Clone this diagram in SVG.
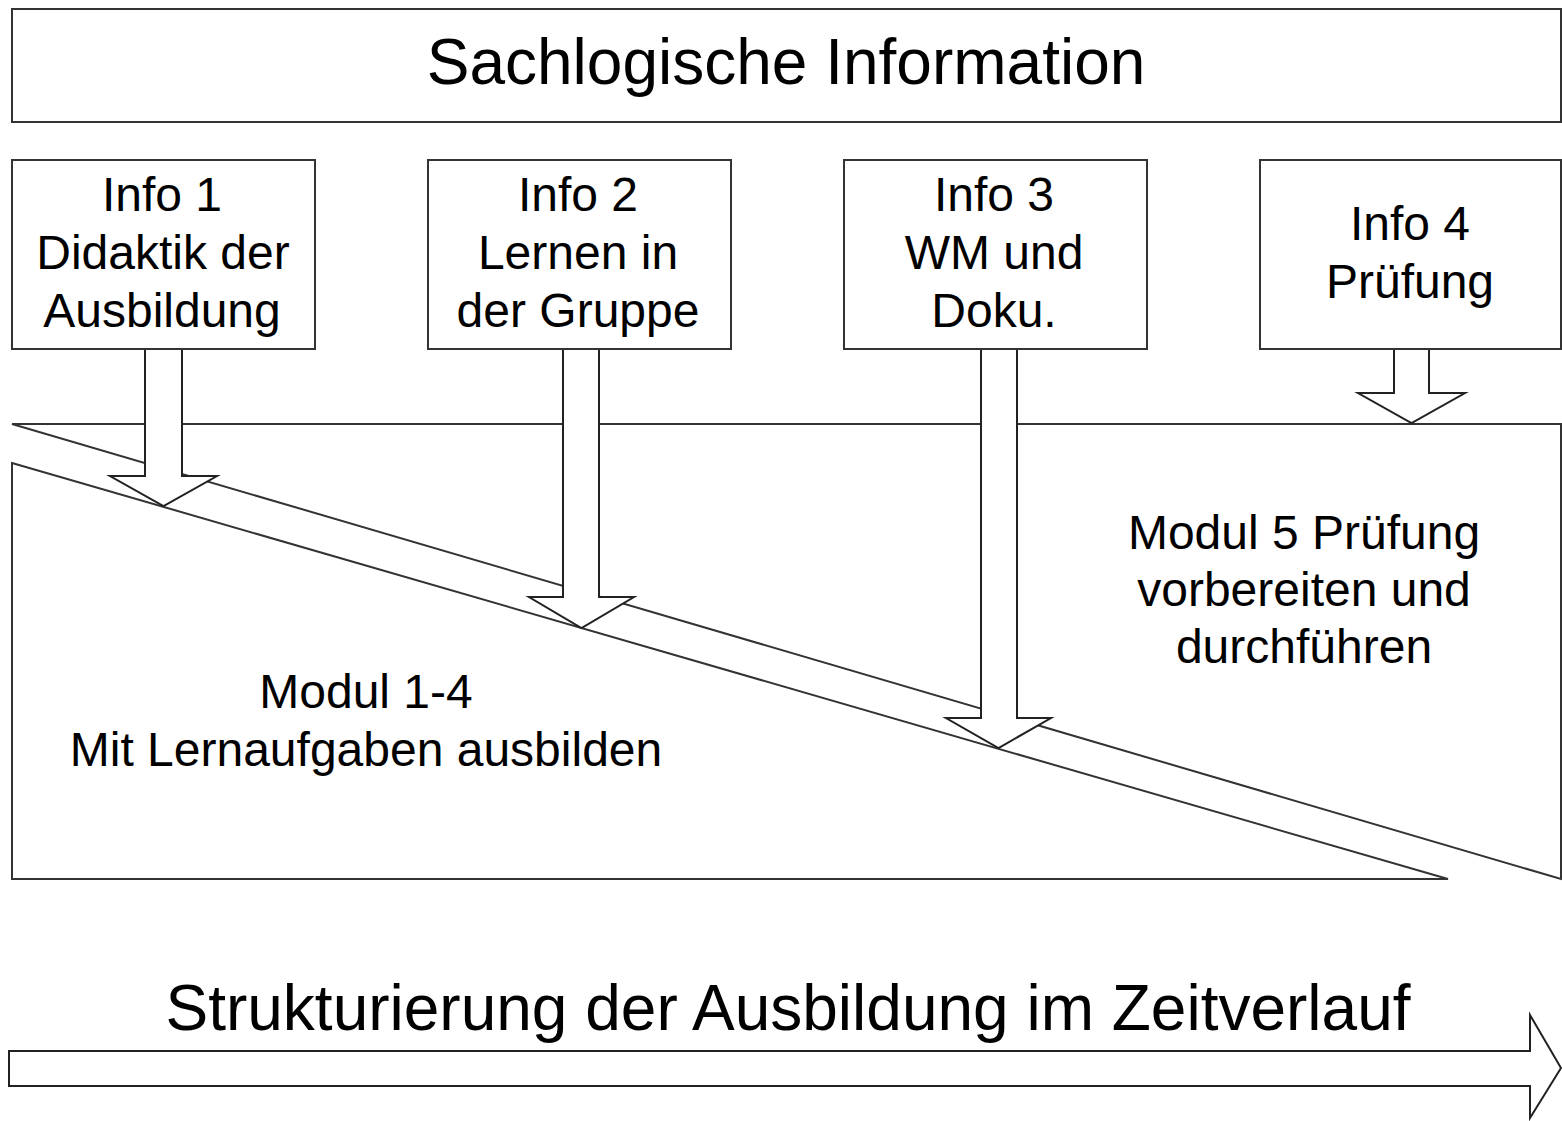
<svg xmlns="http://www.w3.org/2000/svg" width="1562" height="1121" viewBox="0 0 1562 1121">
  <style>
    .box { fill: #ffffff; stroke: #333333; stroke-width: 2; }
    .arrow { fill: #ffffff; stroke: #222222; stroke-width: 2; stroke-linejoin: miter; }
    .lbl { font-family: "Liberation Sans", Arial, sans-serif; font-size: 48px; fill: #000000; text-anchor: middle; }
    .title { font-family: "Liberation Sans", Arial, sans-serif; font-size: 64px; fill: #000000; text-anchor: middle; }
  </style>

  <rect width="1562" height="1121" fill="#ffffff"/>

  <!-- Header bar -->
  <g id="header">
    <rect class="box" x="12" y="9" width="1549" height="113"/>
    <text class="title" x="786" y="84">Sachlogische Information</text>
  </g>

  <!-- Module areas split by the diagonal band -->
  <g id="modul5">
    <polygon class="box" points="12,424 1561,424 1561,879"/>
    <text class="lbl" x="1304" y="549">Modul 5 Prüfung</text>
    <text class="lbl" x="1304" y="606">vorbereiten und</text>
    <text class="lbl" x="1304" y="663">durchführen</text>
  </g>
  <g id="modul1-4">
    <polygon class="box" points="12,463 1448,879 12,879"/>
    <text class="lbl" x="366" y="708">Modul 1-4</text>
    <text class="lbl" x="366" y="766">Mit Lernaufgaben ausbilden</text>
  </g>

  <!-- Block arrows from the info boxes into the modules -->
  <g id="connectors">
    <polygon class="arrow" points="145,349 182,349 182,476 217,476 163.5,506 110,476 145,476"/>
    <polygon class="arrow" points="563,349 599,349 599,597 634,597 581.5,628 529,597 563,597"/>
    <polygon class="arrow" points="981,349 1017,349 1017,718 1051,718 998.5,748 946,718 981,718"/>
    <polygon class="arrow" points="1394,349 1429,349 1429,393 1465,393 1411.5,423 1358,393 1394,393"/>
  </g>

  <!-- Info boxes -->
  <g id="info1">
    <rect class="box" x="12" y="160" width="303" height="189"/>
    <text class="lbl" x="162" y="211">Info 1</text>
    <text class="lbl" x="163" y="269">Didaktik der</text>
    <text class="lbl" x="162" y="327">Ausbildung</text>
  </g>
  <g id="info2">
    <rect class="box" x="428" y="160" width="303" height="189"/>
    <text class="lbl" x="578" y="211">Info 2</text>
    <text class="lbl" x="578" y="269">Lernen in</text>
    <text class="lbl" x="578" y="327">der Gruppe</text>
  </g>
  <g id="info3">
    <rect class="box" x="844" y="160" width="303" height="189"/>
    <text class="lbl" x="994" y="211">Info 3</text>
    <text class="lbl" x="994" y="269">WM und</text>
    <text class="lbl" x="994" y="327">Doku.</text>
  </g>
  <g id="info4">
    <rect class="box" x="1260" y="160" width="301" height="189"/>
    <text class="lbl" x="1410" y="240">Info 4</text>
    <text class="lbl" x="1410" y="298">Prüfung</text>
  </g>

  <!-- Timeline -->
  <g id="timeline">
    <text class="title" x="788" y="1030">Strukturierung der Ausbildung im Zeitverlauf</text>
    <polygon class="arrow" points="9,1051 1530,1051 1530,1015 1561,1068 1530,1118 1530,1086 9,1086"/>
  </g>
</svg>
